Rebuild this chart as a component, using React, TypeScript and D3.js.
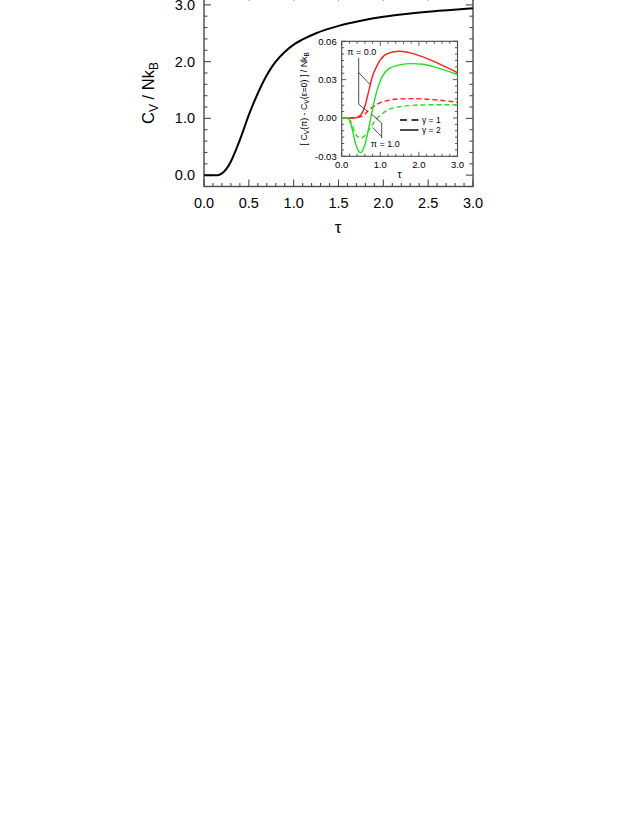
import React from "react";
import * as d3 from "d3";

// main curve: C_V / Nk_B vs tau
const mainTau = [0, 0.15, 0.2, 0.25, 0.3, 0.35, 0.4, 0.45, 0.5, 0.55, 0.6, 0.65, 0.7, 0.75, 0.8, 0.9, 1.0, 1.1, 1.25, 1.5, 1.75, 2.0, 2.25, 2.5, 2.75, 3.0];
const mainCv = [0, 0, 0.03, 0.11, 0.24, 0.42, 0.62, 0.84, 1.06, 1.26, 1.44, 1.61, 1.76, 1.89, 2.0, 2.17, 2.3, 2.39, 2.5, 2.63, 2.72, 2.79, 2.84, 2.88, 2.91, 2.94];

// inset: [C_V(pi) - C_V(eps=0)] / Nk_B
const tauG2Pi0 = [0, 0.3, 0.4, 0.5, 0.6, 0.7, 0.8, 0.9, 1.0, 1.2, 1.5, 1.8, 2.1, 2.5, 3.0];
const dG2Pi0 = [0, 0, 0.0005, 0.0025, 0.009, 0.021, 0.033, 0.04, 0.0455, 0.0505, 0.0522, 0.0508, 0.0478, 0.0428, 0.0355];

const tauG2Pi1 = [0, 0.15, 0.25, 0.35, 0.45, 0.5, 0.6, 0.7, 0.8, 0.9, 1.0, 1.2, 1.5, 1.8, 2.1, 2.5, 3.0];
const dG2Pi1 = [0, 0, -0.006, -0.019, -0.0265, -0.027, -0.021, -0.008, 0.007, 0.02, 0.029, 0.038, 0.0415, 0.0425, 0.042, 0.039, 0.034];

const tauG1Pi0 = [0, 0.3, 0.4, 0.5, 0.6, 0.7, 0.8, 1.0, 1.2, 1.5, 1.8, 2.2, 2.6, 3.0];
const dG1Pi0 = [0, 0, 0.0002, 0.001, 0.003, 0.006, 0.0085, 0.012, 0.0138, 0.0149, 0.0151, 0.0147, 0.0137, 0.0122];

const tauG1Pi1 = [0, 0.15, 0.25, 0.35, 0.45, 0.5, 0.6, 0.7, 0.8, 0.9, 1.0, 1.2, 1.5, 1.8, 2.2, 2.6, 3.0];
const dG1Pi1 = [0, 0, -0.004, -0.012, -0.0155, -0.0158, -0.014, -0.0095, -0.005, -0.001, 0.002, 0.0063, 0.0088, 0.0098, 0.0103, 0.0104, 0.0102];

const mainXTicks = [0, 0.5, 1.0, 1.5, 2.0, 2.5, 3.0];
const mainYTicks = [0, 1, 2, 3];
const insetXTicks = [0, 1, 2, 3];
const insetYTicks = [-0.03, 0, 0.03, 0.06];
const legendLabels = ["γ = 1", "γ = 2"];

// leader lines for the pi labels, in inset data units
const pi0Leader = [[0.74, 0.026], [0.44, 0.0355], [0.44, 0.047], [0.44, 0.0107], [0.68, 0.005]];
const pi1Leader = [[0.77, 0.003], [1.036, -0.004], [1.036, -0.0157], [0.8, -0.0075], [1.036, -0.0145]];

const RED = "#ff1e1e";
const GREEN = "#22e022";
const FONT = "Liberation Sans, Arial, Helvetica, sans-serif";

const App = () => {
  const x = d3.scaleLinear().domain([0, 3]).range([204, 473]);
  const y = d3.scaleLinear().domain([-0.2, 3.2]).range([186.5, -6.5]);

  const ix = d3.scaleLinear().domain([0, 3]).range([341.7, 457.5]);
  const iy = d3.scaleLinear().domain([-0.03, 0.06]).range([156.3, 41.3]);

  const mainLine = d3
    .line<number>()
    .x((d, i) => x(mainTau[i]))
    .y((d) => y(d))
    .curve(d3.curveMonotoneX);

  const insetLine = (taus: number[]) =>
    d3
      .line<number>()
      .x((d, i) => ix(taus[i]))
      .y((d) => iy(d))
      .curve(d3.curveMonotoneX);

  const frame = "#4a4a4a";

  // main ticks
  const xMinor = d3.range(0, 3.0001, 0.1);
  const yMinor = d3.range(-0.2, 3.2001, 0.2);
  const isHalf = (v: number) => Math.abs(v * 2 - Math.round(v * 2)) < 1e-6;
  const isInt = (v: number) => Math.abs(v - Math.round(v)) < 1e-6;

  const ixMinor = d3.range(0, 3.0001, 0.2);
  const iyMinor = d3.range(-0.03, 0.06001, 0.005);
  const isInsetMajorY = (v: number) => Math.abs(v / 0.03 - Math.round(v / 0.03)) < 1e-6;

  const [x0, x1] = x.range();
  const [yb, yt] = y.range();
  const [ix0, ix1] = ix.range();
  const [iyb, iyt] = iy.range();

  const seg = (a: number[], b: number[]) => `M${ix(a[0])},${iy(a[1])}L${ix(b[0])},${iy(b[1])}`;

  return (
    <svg
      width={638}
      height={825}
      style={{ position: "absolute", left: 0, top: 0, background: "#fff" }}
      fontFamily={FONT}
    >
      {/* main frame */}
      <rect x={x0} y={yt} width={x1 - x0} height={yb - yt} fill="none" stroke={frame} strokeWidth={1.4} />

      {xMinor.map((v, i) => {
        const len = isHalf(v) ? 7 : 3.5;
        return (
          <g key={"xt" + i} stroke={frame} strokeWidth={1.1}>
            <line x1={x(v)} x2={x(v)} y1={yb} y2={yb - len} />
            <line x1={x(v)} x2={x(v)} y1={yt} y2={yt + len} />
          </g>
        );
      })}
      {yMinor.map((v, i) => {
        const len = isInt(v) ? 7 : 3.5;
        return (
          <g key={"yt" + i} stroke={frame} strokeWidth={1.1}>
            <line x1={x0} x2={x0 + len} y1={y(v)} y2={y(v)} />
            <line x1={x1} x2={x1 - len} y1={y(v)} y2={y(v)} />
          </g>
        );
      })}

      {mainXTicks.map((v) => (
        <text key={"xl" + v} x={x(v)} y={yb + 21} fontSize={14.5} textAnchor="middle" fill="#000">
          {v.toFixed(1)}
        </text>
      ))}
      {mainYTicks.map((v) => (
        <text key={"yl" + v} x={x0 - 9} y={y(v) + 5} fontSize={14.5} textAnchor="end" fill="#000">
          {v.toFixed(1)}
        </text>
      ))}

      <text x={338} y={233} fontSize={17} textAnchor="middle">τ</text>
      <text transform="translate(153.5,93) rotate(-90)" fontSize={16.5} textAnchor="middle">
        C<tspan fontSize={12} dy={4}>V</tspan>
        <tspan dy={-4}> / Nk</tspan>
        <tspan fontSize={12} dy={4}>B</tspan>
      </text>

      <path d={mainLine(mainCv) || ""} fill="none" stroke="#000" strokeWidth={2} />

      {/* inset */}
      <rect x={ix0} y={iyt} width={ix1 - ix0} height={iyb - iyt} fill="#fff" stroke={frame} strokeWidth={1.1} />
      {ixMinor.map((v, i) => {
        const len = isInt(v) ? 4.5 : 2.5;
        return (
          <g key={"ixt" + i} stroke={frame} strokeWidth={0.9}>
            <line x1={ix(v)} x2={ix(v)} y1={iyb} y2={iyb - len} />
            <line x1={ix(v)} x2={ix(v)} y1={iyt} y2={iyt + len} />
          </g>
        );
      })}
      {iyMinor.map((v, i) => {
        const len = isInsetMajorY(v) ? 4.5 : 2.5;
        return (
          <g key={"iyt" + i} stroke={frame} strokeWidth={0.9}>
            <line x1={ix0} x2={ix0 + len} y1={iy(v)} y2={iy(v)} />
            <line x1={ix1} x2={ix1 - len} y1={iy(v)} y2={iy(v)} />
          </g>
        );
      })}
      {insetXTicks.map((v) => (
        <text key={"ixl" + v} x={ix(v)} y={iyb + 12} fontSize={9.5} textAnchor="middle">
          {v.toFixed(1)}
        </text>
      ))}
      {insetYTicks.map((v) => (
        <text key={"iyl" + v} x={ix0 - 5} y={iy(v) + 3.4} fontSize={9.5} textAnchor="end">
          {v.toFixed(2)}
        </text>
      ))}
      <text x={ix(1.5)} y={iyb + 21.5} fontSize={10} textAnchor="middle">τ</text>
      <text transform={`translate(306.5,${(iyt + iyb) / 2}) rotate(-90)`} fontSize={8.8} textAnchor="middle">
        [ C<tspan fontSize={6.5} dy={2}>V</tspan>
        <tspan dy={-2}>(π) - C</tspan>
        <tspan fontSize={6.5} dy={2}>V</tspan>
        <tspan dy={-2}>(ε=0) ] / Nk</tspan>
        <tspan fontSize={6.5} dy={2}>B</tspan>
      </text>

      <path d={insetLine(tauG1Pi0)(dG1Pi0) || ""} fill="none" stroke={RED} strokeWidth={1.4} strokeDasharray="5,3" />
      <path d={insetLine(tauG1Pi1)(dG1Pi1) || ""} fill="none" stroke={GREEN} strokeWidth={1.4} strokeDasharray="5,3" />
      <path d={insetLine(tauG2Pi0)(dG2Pi0) || ""} fill="none" stroke={RED} strokeWidth={1.4} />
      <path d={insetLine(tauG2Pi1)(dG2Pi1) || ""} fill="none" stroke={GREEN} strokeWidth={1.4} />

      {/* leaders */}
      <g stroke="#222" strokeWidth={0.8} fill="none">
        <path d={seg(pi0Leader[0], pi0Leader[1])} />
        <path d={seg(pi0Leader[2], pi0Leader[3])} />
        <path d={seg(pi0Leader[3], pi0Leader[4])} />
        <path d={seg(pi1Leader[0], pi1Leader[1])} />
        <path d={seg(pi1Leader[1], pi1Leader[2])} />
        <path d={seg(pi1Leader[3], pi1Leader[4])} />
      </g>
      <text x={ix(0.52)} y={iy(0.0493)} fontSize={9} textAnchor="middle">π = 0.0</text>
      <text x={ix(1.13)} y={iy(-0.0227)} fontSize={9} textAnchor="middle">π = 1.0</text>

      {/* legend */}
      {legendLabels.map((lab, i) => (
        <g key={lab}>
          <line
            x1={400}
            x2={418.5}
            y1={120 + i * 10}
            y2={120 + i * 10}
            stroke="#000"
            strokeWidth={1.4}
            strokeDasharray={i === 0 ? "7,4.5" : undefined}
          />
          <text x={422} y={123.3 + i * 10} fontSize={8.5}>
            {lab}
          </text>
        </g>
      ))}
    </svg>
  );
};

export default App;
